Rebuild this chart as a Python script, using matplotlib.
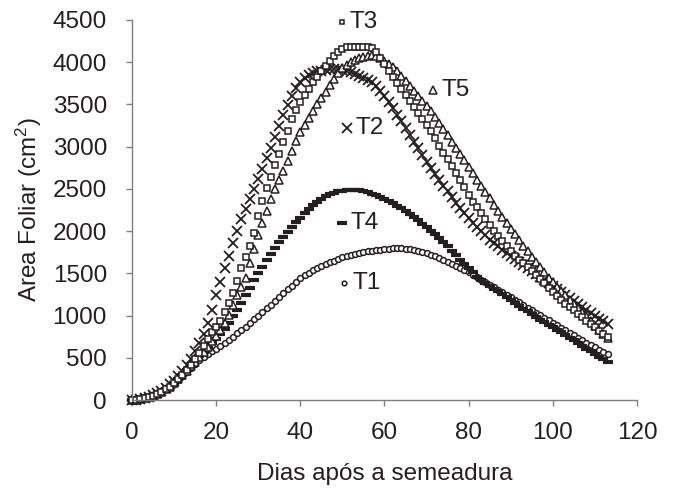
import numpy as np
import matplotlib
matplotlib.use('Agg')
import matplotlib.pyplot as plt

plt.rcParams['font.family'] = ['Liberation Sans', 'DejaVu Sans']
plt.rcParams['mathtext.fontset'] = 'custom'
plt.rcParams['mathtext.rm'] = 'Liberation Sans'
plt.rcParams['mathtext.it'] = 'Liberation Sans'

# days after sowing, one reading per day
days = np.arange(114)

t1 = [0, 5, 10, 20, 35, 50, 70, 95, 125, 160, 200, 240, 285, 335, 385,
      430, 470, 505, 540, 575, 610, 645, 680, 715, 750, 790, 830, 870, 915, 960,
      1000, 1040, 1085, 1130, 1175, 1220, 1265, 1310, 1355, 1400,
      1440, 1475, 1505, 1535, 1560, 1585, 1610, 1630, 1650, 1670,
      1690, 1705, 1720, 1730, 1740, 1750, 1760, 1770, 1775, 1780,
      1785, 1790, 1795, 1795, 1795, 1790, 1785, 1775, 1765, 1750,
      1735, 1720, 1700, 1680, 1660, 1640, 1615, 1590, 1565, 1540,
      1510, 1485, 1455, 1425, 1395, 1365, 1335, 1305, 1275, 1245,
      1215, 1185, 1155, 1125, 1095, 1065, 1035, 1005, 975, 945,
      915, 885, 855, 825, 795, 765, 735, 705, 680, 650,
      625, 595, 570, 545]

t2 = [0, 5, 10, 20, 35, 55, 80, 110, 145, 185, 230, 280, 340, 410, 490,
      580, 670, 780, 910, 1070, 1240, 1400, 1560, 1710, 1860, 2000, 2140, 2260, 2380, 2500,
      2620, 2740, 2860, 2980, 3110, 3240, 3370, 3490, 3600, 3690,
      3760, 3810, 3850, 3870, 3890, 3900, 3910, 3920, 3920, 3920,
      3910, 3895, 3880, 3860, 3840, 3815, 3790, 3760, 3720, 3665,
      3600, 3530, 3460, 3380, 3300, 3220, 3140, 3060, 2980, 2900,
      2820, 2750, 2680, 2610, 2540, 2470, 2400, 2330, 2270, 2210,
      2150, 2100, 2050, 2000, 1950, 1900, 1860, 1820, 1780, 1740,
      1700, 1665, 1630, 1595, 1560, 1525, 1490, 1455, 1420, 1385,
      1350, 1315, 1280, 1245, 1210, 1175, 1140, 1105, 1070, 1035,
      1000, 965, 930, 895]

t3 = [0, 5, 10, 20, 35, 50, 70, 95, 125, 160, 200, 245, 295, 350, 415,
      490, 560, 640, 720, 800, 870, 940, 1040, 1150, 1270, 1410, 1560, 1690, 1820, 1980,
      2180, 2360, 2510, 2640, 2780, 2910, 3050, 3190, 3330, 3440,
      3530, 3610, 3680, 3760, 3830, 3890, 3950, 4010, 4070, 4120,
      4160, 4180, 4185, 4185, 4185, 4185, 4180, 4165, 4120, 4050,
      3980, 3900, 3830, 3750, 3680, 3610, 3540, 3470, 3400, 3330,
      3260, 3190, 3100, 3010, 2920, 2850, 2770, 2690, 2610, 2520,
      2430, 2350, 2280, 2210, 2140, 2070, 2000, 1940, 1880, 1820,
      1760, 1710, 1660, 1620, 1580, 1530, 1480, 1430, 1380, 1330,
      1280, 1230, 1180, 1140, 1100, 1060, 1020, 980, 940, 900,
      860, 820, 780, 745]

t4 = [0, 5, 10, 20, 35, 50, 70, 95, 125, 160, 200, 245, 295, 350, 410,
      470, 520, 570, 620, 670, 720, 780, 840, 910, 990, 1070, 1150, 1240, 1330, 1420,
      1500, 1580, 1660, 1730, 1800, 1870, 1930, 1990, 2050, 2110,
      2160, 2210, 2260, 2310, 2350, 2385, 2410, 2435, 2455, 2470,
      2480, 2485, 2490, 2490, 2485, 2475, 2460, 2445, 2425, 2405,
      2380, 2355, 2330, 2300, 2270, 2235, 2200, 2165, 2130, 2090,
      2050, 2005, 1960, 1915, 1870, 1820, 1770, 1715, 1660, 1610,
      1560, 1510, 1460, 1425, 1390, 1355, 1320, 1285, 1250, 1215,
      1180, 1145, 1110, 1080, 1050, 1015, 980, 950, 920, 890,
      860, 830, 800, 770, 740, 710, 680, 645, 610, 580,
      550, 515, 480, 445]

t5 = [0, 5, 10, 20, 35, 50, 70, 95, 125, 160, 200, 245, 295, 345, 400,
      450, 510, 570, 630, 700, 760, 830, 910, 1010, 1120, 1240, 1340, 1450, 1620, 1790,
      1950, 2100, 2240, 2380, 2500, 2610, 2710, 2830, 2950, 3070,
      3170, 3260, 3340, 3420, 3500, 3580, 3650, 3730, 3800, 3870,
      3930, 3970, 4000, 4030, 4050, 4065, 4075, 4080, 4070, 4050,
      4020, 3980, 3940, 3890, 3840, 3780, 3720, 3660, 3600, 3540,
      3480, 3420, 3350, 3280, 3210, 3140, 3060, 2990, 2910, 2840,
      2760, 2690, 2610, 2540, 2460, 2390, 2310, 2240, 2170, 2100,
      2030, 1960, 1890, 1820, 1760, 1690, 1630, 1570, 1510, 1450,
      1400, 1340, 1290, 1240, 1190, 1140, 1090, 1040, 990, 940,
      880, 830, 780, 730]

labels = ['T1', 'T2', 'T3', 'T4', 'T5']
# where the inline labels sit (day, value)
label_pos = [(50.4, 1382), (51.0, 3217), (49.8, 4480), (50.0, 2100), (71.5, 3670)]

ink = '#231f20'
styles = {
    'T1': dict(marker='o', ms=4.2, mfc='white', mec=ink, mew=1.1),
    'T2': dict(marker='x', ms=7.5, mec=ink, mew=1.3),
    'T3': dict(marker='s', ms=4.6, mfc='white', mec=ink, mew=1.1),
    'T4': dict(marker='_', ms=6.5, mec=ink, mew=3.0),
    'T5': dict(marker='^', ms=5.8, mfc='white', mec=ink, mew=1.1),
}
series = {'T1': t1, 'T2': t2, 'T3': t3, 'T4': t4, 'T5': t5}
fs = 17.5

fig = plt.figure(figsize=(6.74, 4.91), dpi=100)
ax = fig.add_axes([0.1958, 0.1853, 0.7493, 0.774])

for name in ['T1', 'T4', 'T2', 'T5', 'T3']:
    ax.plot(days, series[name], ls='none', clip_on=False, **styles[name])

for name, (lx, ly) in zip(labels, label_pos):
    st = dict(styles[name])
    if name in ('T1', 'T3'):
        st['ms'] = 3.3
    ax.plot([lx], [ly], ls='none', clip_on=False, **st)
    ax.text(lx + 2.0, ly, name, fontsize=fs, color=ink, va='center', ha='left')

ax.set_xlim(0, 120)
ax.set_ylim(0, 4500)
ax.set_xticks(np.arange(0, 121, 20))
ax.set_yticks(np.arange(0, 4501, 500))

for s in ['top', 'right']:
    ax.spines[s].set_visible(False)
for s in ['left', 'bottom']:
    ax.spines[s].set_color('#7f7f7f')
    ax.spines[s].set_linewidth(1.0)
ax.tick_params(direction='out', length=4.5, width=1.0, color='#7f7f7f',
               labelsize=fs, labelcolor=ink)
ax.tick_params(axis='y', pad=13.5)
ax.tick_params(axis='x', pad=11)

ax.set_xlabel('Dias após a semeadura', fontsize=fs, color=ink, labelpad=14)
ax.set_ylabel(r'Area Foliar (cm$^{2}$)', fontsize=fs, color=ink, labelpad=6)

fig.savefig('out.png', dpi=100)
